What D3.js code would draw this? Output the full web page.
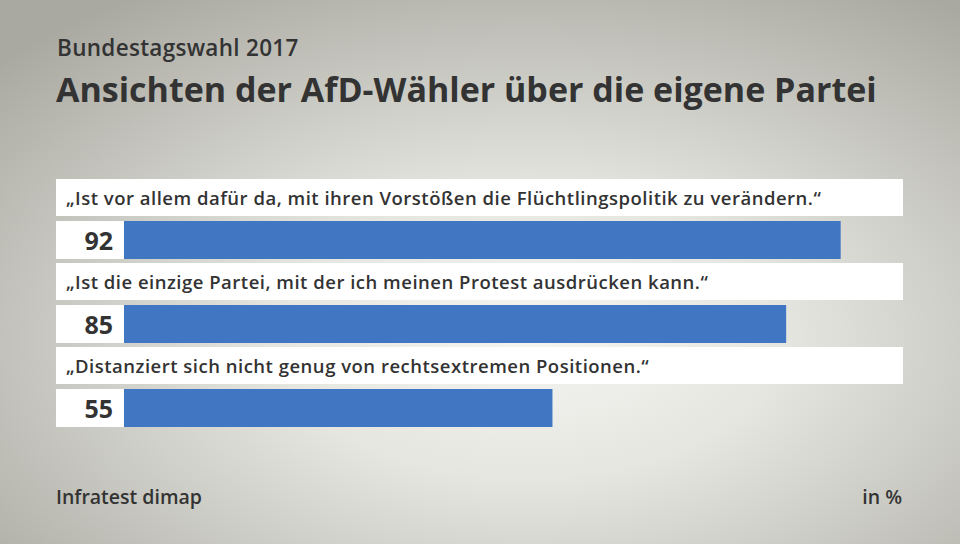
<html><head>
  <script src="https://d3js.org/d3.v7.min.js"></script>
  <style>
    body { margin: 0; }
    text { font-family: 'Open Sans', 'Noto Sans', sans-serif; fill: #333; }
  </style>
</head>
<body>
  <script>
    // Data
    const statements = [
      "„Ist vor allem dafür da, mit ihren Vorstößen die Flüchtlingspolitik zu verändern.“",
      "„Ist die einzige Partei, mit der ich meinen Protest ausdrücken kann.“",
      "„Distanziert sich nicht genug von rechtsextremen Positionen.“"
    ]
    const values = [92, 85, 55]

    const width = 960
    const height = 544

    const svg = d3.select("body")
                  .append("svg")
                  .attr("width", width)
                  .attr("height", height)

    // Background gradient
    const defs = svg.append("defs")
    const grad = defs.append("radialGradient")
                     .attr("id", "bg")
                     .attr("cx", "55%").attr("cy", "62%")
                     .attr("r", "75%")
    grad.append("stop").attr("offset", "0%").attr("stop-color", "#f4f4f1")
    grad.append("stop").attr("offset", "35%").attr("stop-color", "#e6e6e1")
    grad.append("stop").attr("offset", "100%").attr("stop-color", "#a9a9a1")
    svg.append("rect").attr("width", width).attr("height", height).attr("fill", "url(#bg)")

    // Titles
    svg.append("text")
       .text("Bundestagswahl 2017")
       .attr("x", 57).attr("y", 56)
       .style("font-size", "22.5px").style("font-weight", 600)
       .style("letter-spacing", "0.3px")
    svg.append("text")
       .text("Ansichten der AfD-Wähler über die eigene Partei")
       .attr("x", 56).attr("y", 102)
       .style("font-size", "34px").style("font-weight", 700)

    // Layout
    const left = 56, right = 903
    const barStart = 124
    const rowTop = 179, rowStep = 84
    const labelH = 37, barOffset = 42, barH = 38

    const xScale = d3.scaleLinear().domain([0, 100]).range([barStart, right])
    const yScale = d3.scaleBand().domain(d3.range(values.length)).range([rowTop, rowTop + rowStep * values.length])

    const rows = svg.selectAll("g.row").data(values)
                    .join("g").attr("class", "row")
                    .attr("transform", (d, i) => `translate(0,${yScale(i)})`)

    rows.append("rect")
        .attr("x", left).attr("y", 0)
        .attr("width", right - left).attr("height", labelH)
        .attr("fill", "#fff")
    rows.append("text")
        .text((d, i) => statements[i])
        .attr("x", 66).attr("y", 26)
        .style("font-size", "18.5px").style("font-weight", 600)
        .style("letter-spacing", "0.5px")

    rows.append("rect")
        .attr("x", left).attr("y", barOffset)
        .attr("width", barStart - left).attr("height", barH)
        .attr("fill", "#fff")
    rows.append("rect")
        .attr("x", xScale(0)).attr("y", barOffset)
        .attr("width", d => xScale(d) - xScale(0)).attr("height", barH)
        .attr("fill", "#4176c3")
    rows.append("text")
        .text(d => d)
        .attr("x", 113).attr("y", barOffset + 29)
        .attr("text-anchor", "end")
        .style("font-size", "25px").style("font-weight", 700)

    // Footer
    svg.append("text")
       .text("Infratest dimap")
       .attr("x", 56).attr("y", 504)
       .style("font-size", "19.5px").style("font-weight", 600)
    svg.append("text")
       .text("in %")
       .attr("x", 902).attr("y", 504)
       .attr("text-anchor", "end")
       .style("font-size", "19.5px").style("font-weight", 600)
  </script>
</body></html>
